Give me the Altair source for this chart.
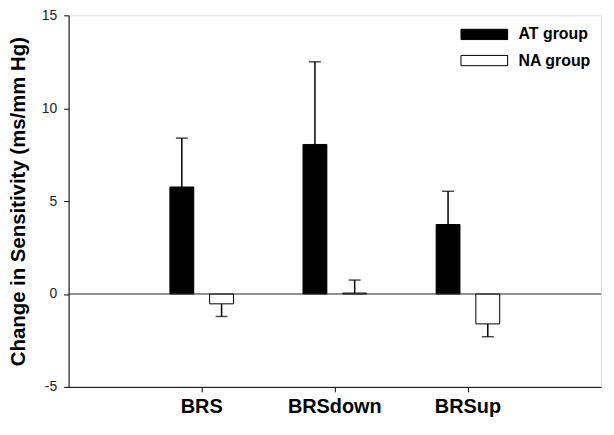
import altair as alt
import pandas as pd

categories = ["BRS", "BRSdown", "BRSup"]
groups = ["AT group", "NA group"]
at_mean = [5.76, 8.05, 3.74]
at_se = [2.63, 4.45, 1.79]
na_mean = [-0.53, 0.05, -1.61]
na_se = [0.68, 0.70, 0.69]
y_ticks = [-5, 0, 5, 10, 15]

rows = []
for i, c in enumerate(categories):
    for g, m, s in ((groups[0], at_mean[i], at_se[i]), (groups[1], na_mean[i], na_se[i])):
        sign = 1 if m >= 0 else -1
        rows.append({"cat": c, "group": g, "mean": m, "end": m + sign * s, "zero": 0})
df = pd.DataFrame(rows)

FONT = "Liberation Sans"

x = alt.X("cat:N", sort=categories, title="",
          scale=alt.Scale(paddingInner=0, paddingOuter=0.5),
          axis=alt.Axis(labelAngle=0, labelFontSize=20, labelFontWeight="bold",
                        labelColor="black", labelFont=FONT, tickSize=5, labelPadding=5,
                        tickColor="black", domainColor="black", grid=False))
xo = alt.XOffset("group:N", sort=groups,
                 scale=alt.Scale(paddingInner=0, paddingOuter=0.675))
yscale = alt.Scale(domain=[-5, 15], nice=False)
y = alt.Y("mean:Q", scale=yscale,
          axis=alt.Axis(values=y_ticks, labelExpr="'' + datum.value",
                        title="Change in Sensitivity (ms/mm Hg)",
                        titleFontSize=20.5, titleFontWeight="bold", titleFont=FONT,
                        titleColor="black", titleX=-44, titleY=187, titleAngle=-90,
                        titleAlign="center", titleBaseline="alphabetic",
                        labelFontSize=14, labelFont=FONT, labelColor="#222",
                        tickSize=5, labelPadding=7, tickColor="black",
                        domainColor="black", grid=False))

base = alt.Chart(df)

bars = base.mark_bar(size=24, stroke="black", strokeWidth=1).encode(
    x=x, xOffset=xo, y=y, y2=alt.Y2("zero:Q"),
    color=alt.Color("group:N", sort=groups,
                    scale=alt.Scale(domain=groups, range=["black", "white"]),
                    legend=alt.Legend(title=None, orient="none", legendX=406, legendY=6.7,
                                      symbolType="M-2,-0.44H2V0.44H-2Z", symbolSize=552,
                                      symbolStrokeColor="black", symbolStrokeWidth=1,
                                      labelFontSize=16, labelFontWeight="bold",
                                      labelFont=FONT, labelColor="black",
                                      labelOffset=22, rowPadding=5.3, padding=0)),
)

err = base.mark_rule(color="black", strokeWidth=1.5).encode(
    x=x, xOffset=xo, y=alt.Y("mean:Q", scale=yscale), y2="end:Q")

caps = base.mark_tick(color="black", size=12, thickness=1.5).encode(
    x=x, xOffset=xo, y=alt.Y("end:Q", scale=yscale))

zero = alt.Chart(pd.DataFrame({"z": [0]})).mark_rule(color="#222", strokeWidth=1).encode(
    y=alt.Y("z:Q", scale=yscale))

chart = alt.layer(bars, err, caps, zero).properties(
    width=536, height=374,
    autosize=alt.AutoSizeParams(type="none"),
    padding={"left": 61, "top": 6, "right": 5, "bottom": 39},
).configure_view(stroke="black", strokeWidth=1).configure(background="white")

chart.save("out.html", embed_options={"renderer": "svg", "actions": False})
